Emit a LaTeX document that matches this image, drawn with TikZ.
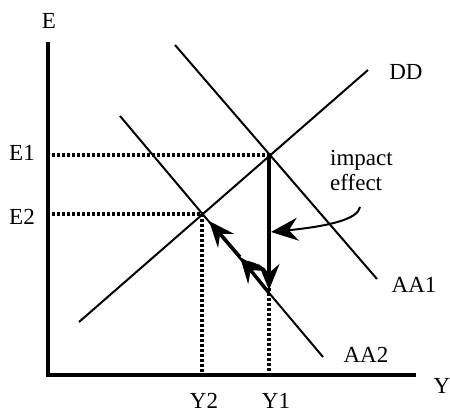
\documentclass[tikz,border=0pt]{standalone}
\usepackage{fontspec}
\setmainfont{Liberation Serif}
\usepackage{tikz}
\usetikzlibrary{arrows.meta, positioning, calc}

\begin{document}
\begin{tikzpicture}[
  x=1pt, y=-1pt,
  axis/.style={line width=4pt},
  curve/.style={line width=2pt},
  guide/.style={line width=3.5pt, dash pattern=on 3pt off 2pt},
  move/.style={line width=3.5pt, -{Stealth[length=26pt, width=21pt, inset=9pt]}},
  pointer/.style={line width=2pt, -{Stealth[length=27pt, width=23pt, inset=9pt]}},
  lbl/.style={font=\fontsize{23}{25}\selectfont, inner sep=0pt},
]
\useasboundingbox (0,0) rectangle (450,415);

%% points
\coordinate (O) at (48,375);
\coordinate (E1) at (269,155);
\coordinate (E2) at (202,214);
\coordinate (B) at (269,293);
\coordinate (M) at (240,257);
\coordinate (hit) at (271,232);
\coordinate (from) at (360,207);

%% axes
\draw[axis] (48,42) -- (O) -- (416,375);
\node[lbl] (lE) at (49,21) {E};
\node[lbl] (lY) at (442,386) {Y};

%% schedules
\draw[curve] (79,322) -- (368,70);
\draw[curve] (175,45) -- (377,279);
\draw[curve] (120,116) -- (323,357);
\node[lbl] (lDD) at (406,72) {DD};
\node[lbl] (lAA1) at (414,285) {AA1};
\node[lbl] (lAA2) at (366,355) {AA2};

%% guides
\node[lbl] (lE1) at (22,153) {E1};
\node[lbl] (lE2) at (22,217) {E2};
\node[lbl] (lY2) at (204,401) {Y2};
\node[lbl] (lY1) at (276,401) {Y1};
\draw[guide] (52,155) -- (E1) -- (E1 |- O);
\draw[guide] (52,214) -- (E2) -- (E2 |- O);

%% adjustment
\draw[move] (E1) -- (269,290);
\draw[move] (B) -- (M);
\draw[move] (M) -- (209,221);
\draw[line width=2.5pt] (247,262) to[bend left=10] (265,270);

%% impact effect
\node[lbl, align=left, anchor=north west] (imp) at (330,150) {impact\\effect};
\draw[pointer] (from) .. controls (358,219) and (330,226) .. (hit);

\end{tikzpicture}
\end{document}
